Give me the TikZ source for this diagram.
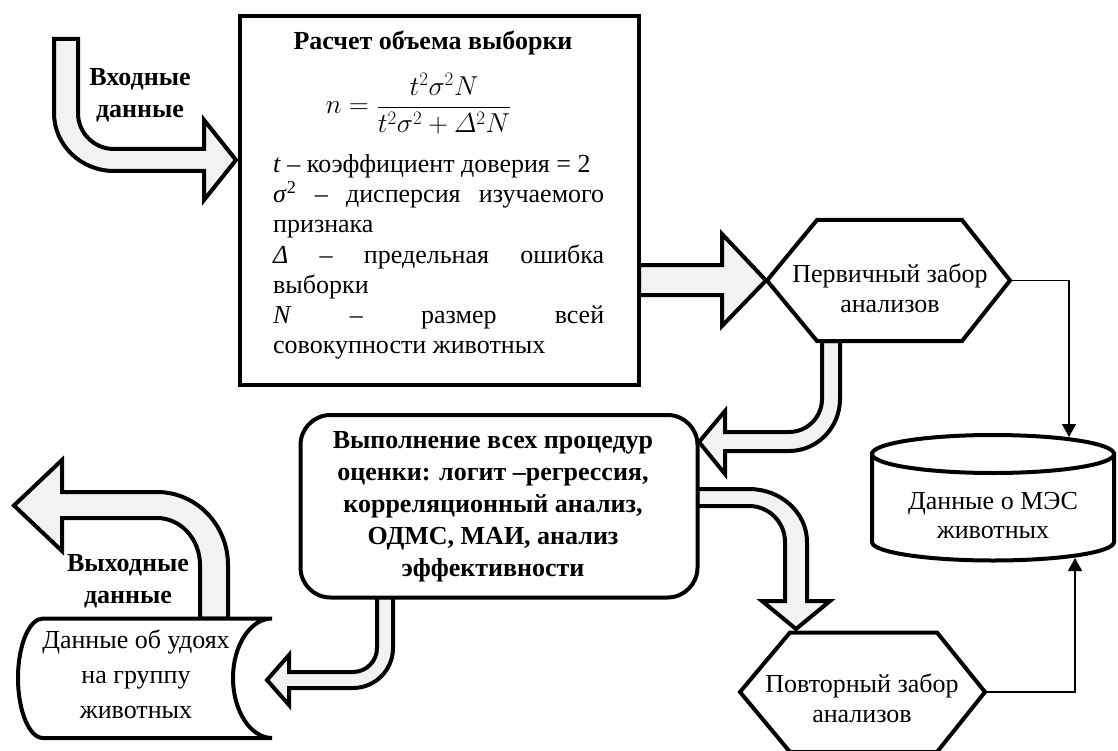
\documentclass[tikz,border=0pt]{standalone}
\usepackage{amsmath}
\usepackage{fontspec}
\setmainfont{Liberation Serif}
\usetikzlibrary{arrows.meta}
\definecolor{arrowgray}{HTML}{F2F2F2}
\begin{document}
\begin{tikzpicture}[x=1pt,y=-1pt,
  flow/.style={draw=black, line width=4pt, fill=white},
  bigarrow/.style={draw=black, line width=4pt, fill=arrowgray, line join=miter},
  conn/.style={draw=black, line width=1.6pt, -{Triangle[length=13pt,width=14pt]}},
  txt/.style={font=\fontsize{26}{30}\selectfont, align=center, inner sep=0pt},
  btxt/.style={font=\fontsize{26}{32}\selectfont\bfseries, align=center, inner sep=0pt},
  line/.style={font=\fontsize{26}{30}\selectfont, inner sep=0pt, anchor=base west},
]
\useasboundingbox (0,0) rectangle (1118,751);

% ---- wide block arrows ----
% input data -> sample size box
\draw[bigarrow] (54,39) -- (78,39) -- (78,113)
  .. controls (78,132.9) and (94.1,149) .. (114,149) -- (204,149) -- (204,120)
  -- (236,160) -- (204,200) -- (204,171) -- (114,171)
  .. controls (80.9,171) and (54,145) .. (54,113) -- cycle;
% sample size box -> primary sampling
\draw[bigarrow] (639,265) -- (722,265) -- (722,234) -- (766,280.5)
  -- (722,326) -- (722,295) -- (639,295) -- cycle;
% primary sampling -> evaluation box
\draw[bigarrow] (822,341) -- (840,341) -- (840,399)
  .. controls (840,427.7) and (817.2,451) .. (789,451) -- (725,451) -- (725,474)
  -- (699,442) -- (725,411) -- (725,432) -- (789,432)
  .. controls (807.2,432) and (822,417.2) .. (822,399) -- cycle;
% evaluation box -> repeated sampling
\draw[bigarrow] (697,489) -- (749,489)
  .. controls (781,489) and (807,512.7) .. (807,542) -- (807,601) -- (830,601)
  -- (796,629) -- (762,601) -- (785,601) -- (785,542)
  .. controls (785,522.1) and (768.9,506) .. (749,506) -- (697,506) -- cycle;
% evaluation box -> milk yield data
\draw[bigarrow] (377,597) -- (393,597) -- (393,648)
  .. controls (393,670.1) and (375.1,688) .. (353,688) -- (289,688) -- (289,705)
  -- (267,680) -- (289,655) -- (289,672) -- (353,672)
  .. controls (366.2,672) and (377,661.2) .. (377,648) -- cycle;
% output data
\draw[bigarrow] (200,618.5) -- (200,565)
  .. controls (200,539.1) and (180.7,518) .. (157,518) -- (62,518) -- (62,551)
  -- (14,505.5) -- (62,460) -- (62,492) -- (157,492)
  .. controls (196.2,492) and (228,524.7) .. (228,565) -- (228,618.5) -- cycle;

% ---- blocks ----
\node[flow, minimum width=399.5pt, minimum height=368.5pt, inner sep=0pt] (calc) at (439.25,200.25) {};
\node[flow, rounded corners=30pt, minimum width=397pt, minimum height=182.5pt, inner sep=0pt] (eval) at (499,506.25) {};

% primary sampling (hexagon)
\draw[flow] (767,280.5) -- (817,220) -- (962,220) -- (1010,280.5) -- (962,341) -- (817,341) -- cycle;
% repeated sampling (hexagon)
\draw[flow] (740,692) -- (790,632.5) -- (937,632.5) -- (985,692) -- (937,752) -- (790,752) -- cycle;

% database cylinder
\draw[flow] (872,454) -- (872,542)
  .. controls (872,552.2) and (926.2,560.5) .. (993,560.5)
  .. controls (1059.8,560.5) and (1114,552.2) .. (1114,542) -- (1114,454) -- cycle;
\draw[flow] (993,454) ellipse [x radius=121pt, y radius=19pt];

% stored data shape
\draw[flow] (272,618.5) -- (43,618.5)
  .. controls (29.2,618.5) and (18,645.2) .. (18,678)
  .. controls (18,710.8) and (29.2,738) .. (43,738) -- (272,738)
  .. controls (250.5,738) and (233,710.8) .. (233,678)
  .. controls (233,645.2) and (250.5,618.5) .. (272,618.5) -- cycle;

% ---- thin connectors ----
\coordinate (h1e) at (1010,280.5);
\coordinate (dbt) at (1069,437);
\coordinate (h2e) at (985,692);
\coordinate (dbb) at (1075,558);
\draw[conn] (h1e) -| (dbt);
\draw[conn] (h2e) -| (dbb);

% ---- texts ----
\node[btxt] (in) at (140,95) {Входные\\данные};
\node[btxt] (out) at (128,581) {Выходные\\данные};

\node[font=\fontsize{26}{30}\selectfont\bfseries, inner sep=0pt, anchor=base] (title) at (433,50) {Расчет объема выборки};
\node[font=\fontsize{24}{28}\selectfont, inner sep=0pt, anchor=base] (frm) at (418.5,114)
  {\scalebox{1.1}{$\displaystyle n=\frac{t^2\sigma^2N}{t^2\sigma^2+\varDelta^2N}$}};
\node[line] (l1) at (273,173) {\textit{t} – коэффициент доверия = 2};
\node[line] (l2) at (273,203) {\hbox to 331pt{\textit{σ}\textsuperscript{2}\hfill–\hfill дисперсия\hfill изучаемого}};
\node[line] (l3) at (273,233) {признака};
\node[line] (l4) at (273,263) {\hbox to 331pt{\textit{Δ}\hfill–\hfill предельная\hfill ошибка}};
\node[line] (l5) at (273,293) {выборки};
\node[line] (l6) at (273,323) {\hbox to 331pt{\textit{N}\hfill–\hfill размер\hfill всей}};
\node[line] (l7) at (273,353) {совокупности животных};

\node[btxt] (evaltxt) at (493,506.5) {Выполнение всех процедур\\оценки: логит –регрессия,\\корреляционный анализ,\\ОДМС, МАИ, анализ\\эффективности};

\node[txt] (h1txt) at (890,288) {Первичный забор\\анализов};
\node[txt] (h2txt) at (862,698) {Повторный забор\\анализов};
\node[font=\fontsize{26}{29}\selectfont, align=center, inner sep=0pt] (dbtxt) at (993,516) {Данные о МЭС\\животных};
\node[font=\fontsize{26}{35}\selectfont, align=center, inner sep=0pt] (yield) at (136,674) {Данные об удоях\\на группу\\животных};
\end{tikzpicture}
\end{document}
